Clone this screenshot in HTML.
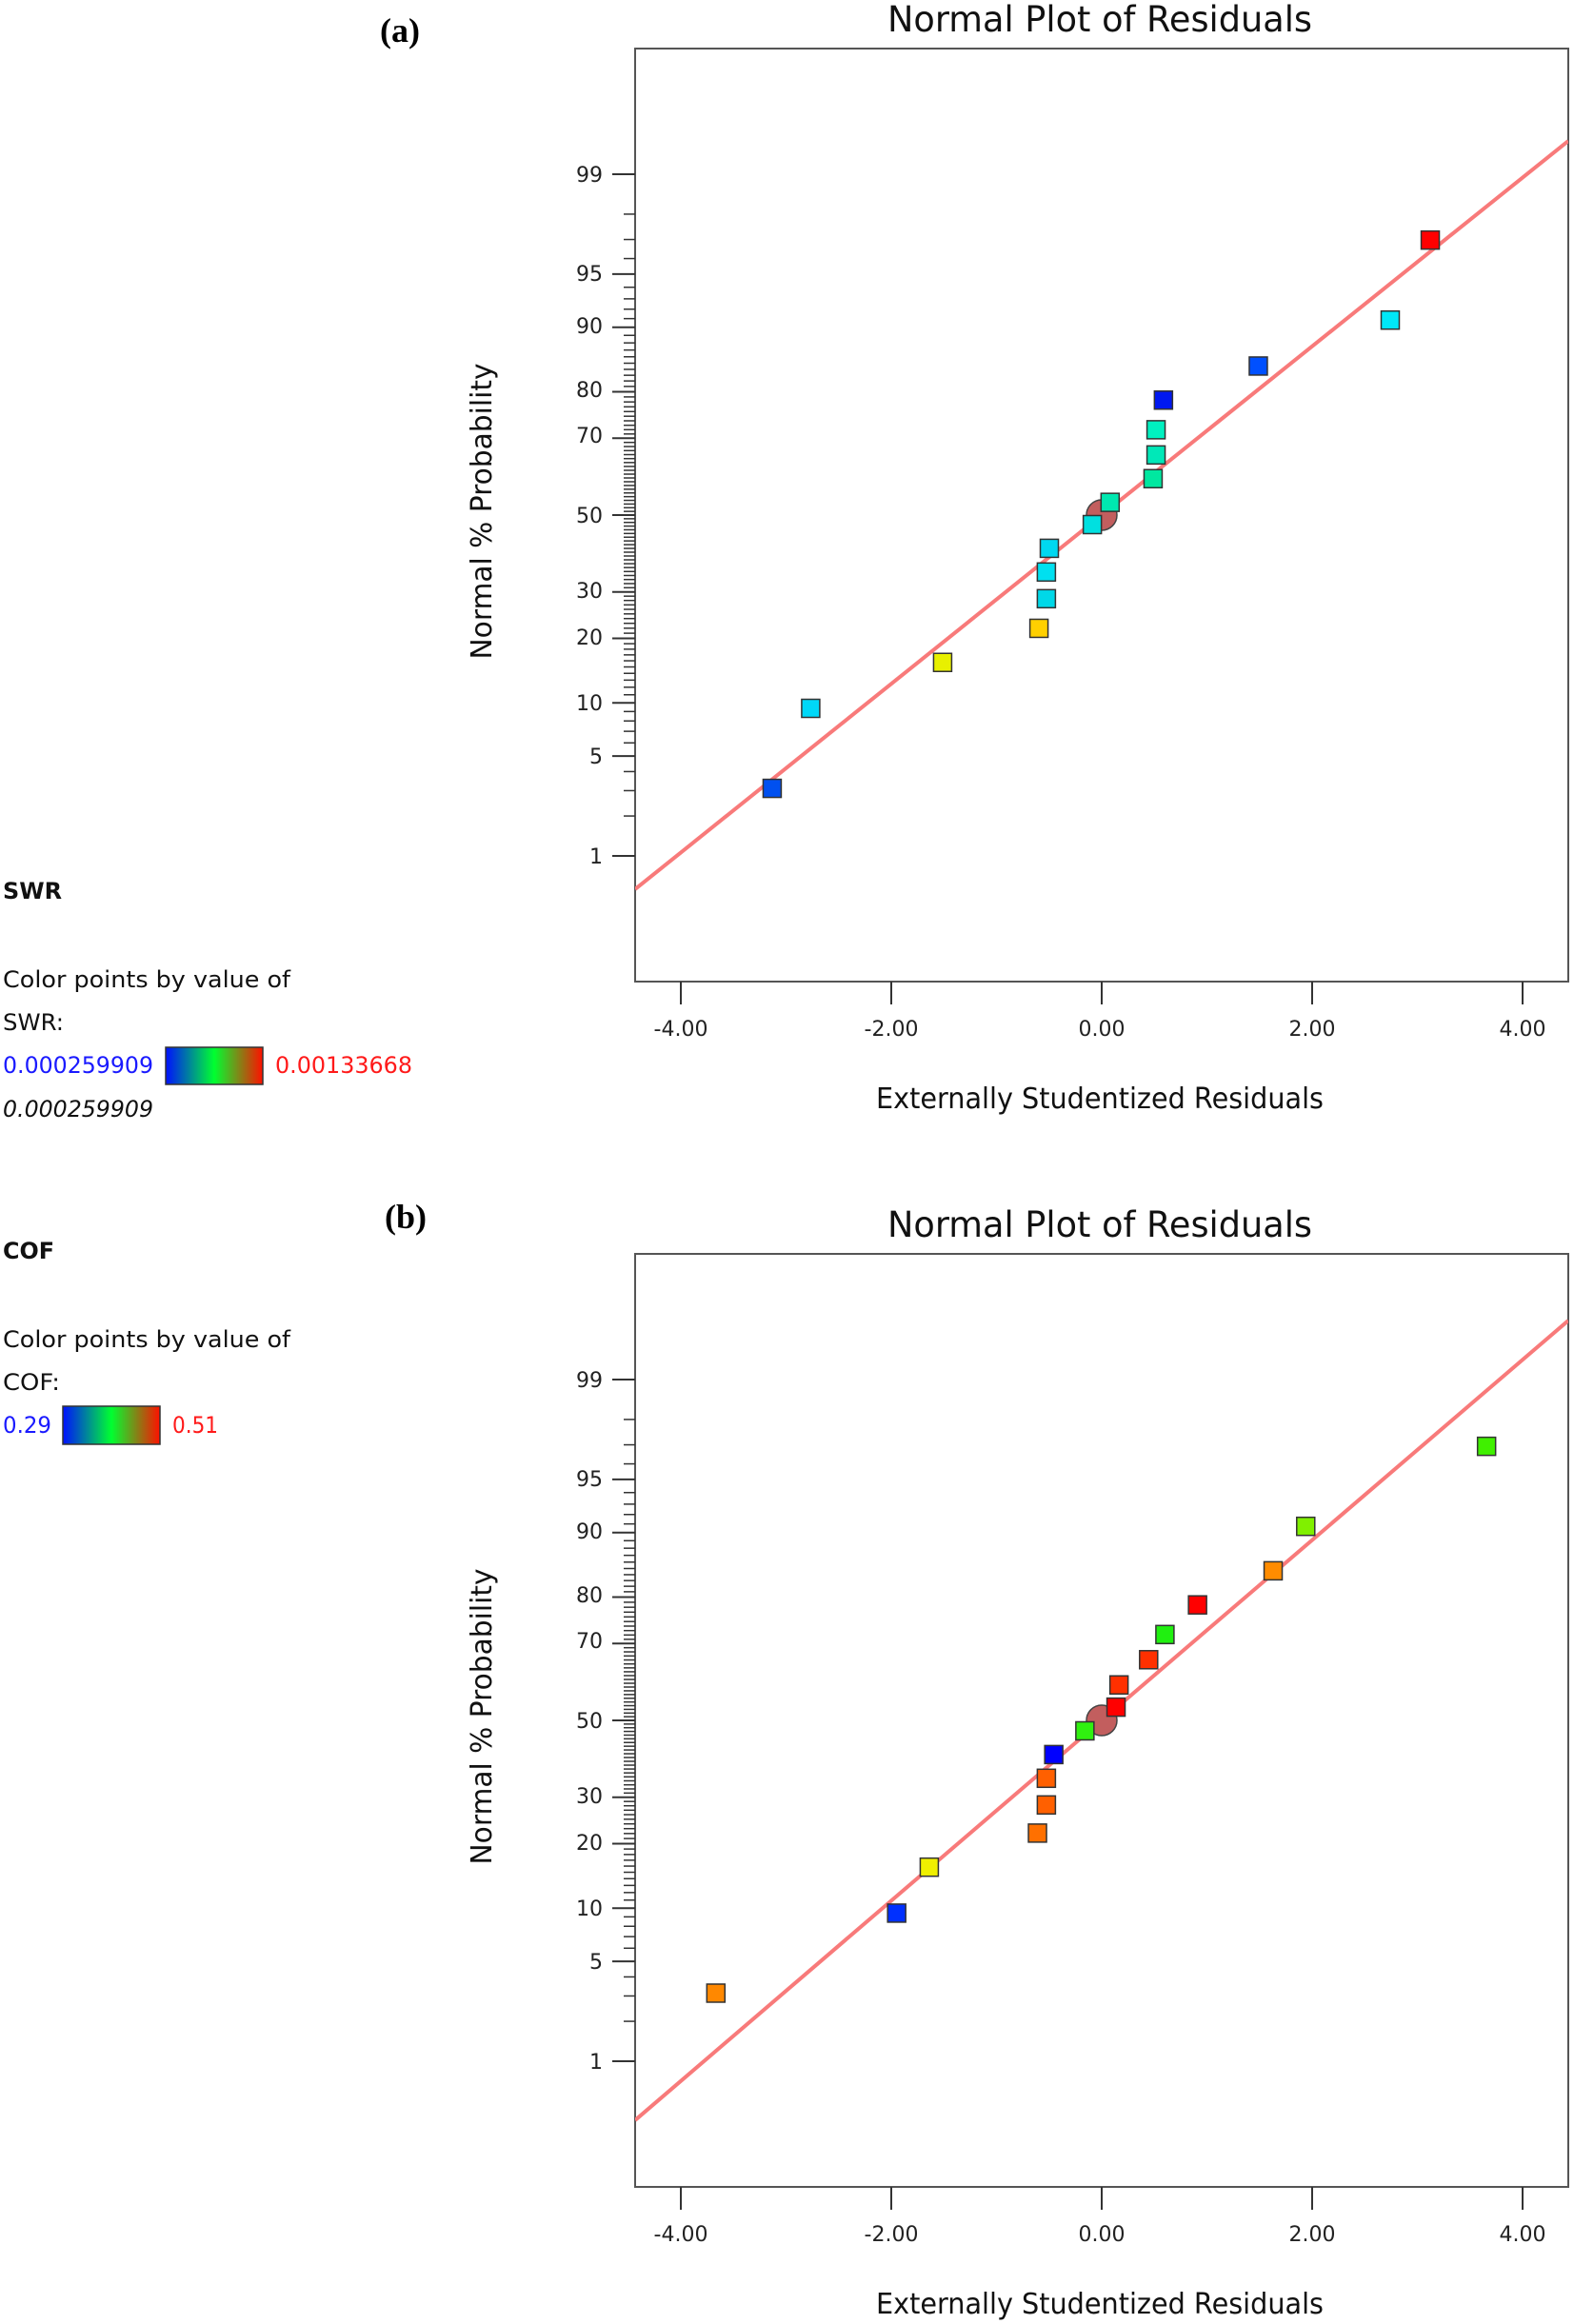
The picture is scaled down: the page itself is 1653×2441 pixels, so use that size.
<!DOCTYPE html>
<html><head><meta charset="utf-8"><style>
html,body{margin:0;padding:0;background:#fff;}
svg{display:block;}
text{font-family:"DejaVu Sans","Liberation Sans",sans-serif;}
</style></head><body>
<svg id="s" width="1653" height="2441" viewBox="0 0 1653 2441" xmlns="http://www.w3.org/2000/svg">
<defs>
<linearGradient id="g" x1="0" x2="1" y1="0" y2="0">
<stop offset="0" stop-color="#0010ff"/><stop offset="0.5" stop-color="#00ff30"/><stop offset="1" stop-color="#ff1000"/>
</linearGradient>
</defs>
<g id="pa"></g><g id="pb"></g>
<text x="420" y="44" font-weight="bold" font-size="36" text-anchor="middle" style="font-family:'Liberation Serif',serif">(a)</text>
<text x="1155" y="33" font-size="37" text-anchor="middle" textLength="446" lengthAdjust="spacingAndGlyphs" fill="#111">Normal Plot of Residuals</text>
<text x="1155" y="1164" font-size="30" text-anchor="middle" textLength="470" lengthAdjust="spacingAndGlyphs" fill="#111">Externally Studentized Residuals</text>
<text transform="translate(516,537) rotate(-90)" font-size="30" text-anchor="middle" textLength="311" lengthAdjust="spacingAndGlyphs" fill="#111">Normal % Probability</text>
<g font-size="22" text-anchor="end" fill="#222">
<text x="633" y="191">99</text><text x="633" y="295">95</text><text x="633" y="350">90</text><text x="633" y="417">80</text><text x="633" y="465">70</text><text x="633" y="549">50</text><text x="633" y="628">30</text><text x="633" y="677">20</text><text x="633" y="746">10</text><text x="633" y="802">5</text><text x="633" y="907">1</text>
</g>
<g font-size="22" text-anchor="middle" fill="#222">
<text x="715" y="1088">-4.00</text><text x="936" y="1088">-2.00</text><text x="1157" y="1088">0.00</text><text x="1378" y="1088">2.00</text><text x="1599" y="1088">4.00</text>
</g>
<text x="3" y="944" font-size="24" font-weight="bold" fill="#111" textLength="62" lengthAdjust="spacingAndGlyphs">SWR</text>
<text x="3" y="1037" font-size="24" fill="#111" textLength="302" lengthAdjust="spacingAndGlyphs">Color points by value of</text>
<text x="3" y="1082" font-size="24" fill="#111" textLength="64" lengthAdjust="spacingAndGlyphs">SWR:</text>
<text x="3" y="1127" font-size="24" fill="#1a1aff" textLength="158" lengthAdjust="spacingAndGlyphs">0.000259909</text>
<rect x="174" y="1100" width="102" height="39" fill="url(#g)" stroke="#333" stroke-width="1.5"/>
<text x="289" y="1127" font-size="24" fill="#ff1a1a" textLength="144" lengthAdjust="spacingAndGlyphs">0.00133668</text>
<text x="3" y="1173" font-size="24" font-style="italic" fill="#111" textLength="158" lengthAdjust="spacingAndGlyphs">0.000259909</text>
<text x="426" y="1290" font-weight="bold" font-size="36" text-anchor="middle" style="font-family:'Liberation Serif',serif">(b)</text>
<text x="1155" y="1299" font-size="37" text-anchor="middle" textLength="446" lengthAdjust="spacingAndGlyphs" fill="#111">Normal Plot of Residuals</text>
<text x="1155" y="2430" font-size="30" text-anchor="middle" textLength="470" lengthAdjust="spacingAndGlyphs" fill="#111">Externally Studentized Residuals</text>
<text transform="translate(516,1803) rotate(-90)" font-size="30" text-anchor="middle" textLength="311" lengthAdjust="spacingAndGlyphs" fill="#111">Normal % Probability</text>
<g font-size="22" text-anchor="end" fill="#222">
<text x="633" y="1457">99</text><text x="633" y="1561">95</text><text x="633" y="1616">90</text><text x="633" y="1683">80</text><text x="633" y="1731">70</text><text x="633" y="1815">50</text><text x="633" y="1894">30</text><text x="633" y="1943">20</text><text x="633" y="2012">10</text><text x="633" y="2068">5</text><text x="633" y="2173">1</text>
</g>
<g font-size="22" text-anchor="middle" fill="#222">
<text x="715" y="2354">-4.00</text><text x="936" y="2354">-2.00</text><text x="1157" y="2354">0.00</text><text x="1378" y="2354">2.00</text><text x="1599" y="2354">4.00</text>
</g>
<text x="3" y="1322" font-size="24" font-weight="bold" fill="#111" textLength="54" lengthAdjust="spacingAndGlyphs">COF</text>
<text x="3" y="1415" font-size="24" fill="#111" textLength="302" lengthAdjust="spacingAndGlyphs">Color points by value of</text>
<text x="3" y="1460" font-size="24" fill="#111" textLength="60" lengthAdjust="spacingAndGlyphs">COF:</text>
<text x="3" y="1505" font-size="24" fill="#1a1aff" textLength="51" lengthAdjust="spacingAndGlyphs">0.29</text>
<rect x="66" y="1477" width="102" height="40" fill="url(#g)" stroke="#333" stroke-width="1.5"/>
<text x="181" y="1505" font-size="24" fill="#ff1a1a" textLength="48" lengthAdjust="spacingAndGlyphs">0.51</text>
</svg>
<script>
(function(){
var NS="http://www.w3.org/2000/svg";
function el(p,t,a){var e=document.createElementNS(NS,t);for(var k in a)e.setAttribute(k,a[k]);p.appendChild(e);return e;}
function ninv(p){
var a=[-39.69683028665376,220.9460984245205,-275.9285104469687,138.3577518672690,-30.66479806614716,2.506628277459239],
b=[-54.47609879822406,161.5858589980209,-155.6989798598866,66.80131188771720,-13.28068155288572],
c=[-0.007784894002430293,-0.3223964580411365,-2.400758277161838,-2.549732539343734,4.374664141464968,2.938163982698783],
d=[0.007784695709041462,0.3224671290700398,2.445134137142996,3.754408661907416];
var q,r;
if(p<0.02425){q=Math.sqrt(-2*Math.log(p));return (((((c[0]*q+c[1])*q+c[2])*q+c[3])*q+c[4])*q+c[5])/((((d[0]*q+d[1])*q+d[2])*q+d[3])*q+1);}
if(p>1-0.02425){q=Math.sqrt(-2*Math.log(1-p));return -(((((c[0]*q+c[1])*q+c[2])*q+c[3])*q+c[4])*q+c[5])/((((d[0]*q+d[1])*q+d[2])*q+d[3])*q+1);}
q=p-0.5;r=q*q;return (((((a[0]*r+a[1])*r+a[2])*r+a[3])*r+a[4])*r+a[5])*q/(((((b[0]*r+b[1])*r+b[2])*r+b[3])*r+b[4])*r+1);
}
var S=1653/1062;
function panel(g,dy,slope,pts){
var L=667,R=1647,T=51+dy,B=1031+dy,y50=541+dy,k=153.9;
el(g,"rect",{x:L,y:T,width:R-L,height:B-T,fill:"none",stroke:"#555","stroke-width":2});
var major={1:1,5:1,10:1,20:1,30:1,50:1,70:1,80:1,90:1,95:1,99:1};
for(var i=1;i<=99;i++){var y=y50-ninv(i/100)*k;el(g,"line",{x1:major[i]?643:655,x2:L,y1:y,y2:y,stroke:"#333","stroke-width":major[i]?2:1.5});}
[-4,-2,0,2,4].forEach(function(v){var x=1157+v*110.5;el(g,"line",{x1:x,x2:x,y1:B,y2:B+24,stroke:"#333","stroke-width":2});});
var cl=el(g,"clipPath",{id:"c"+dy});el(cl,"rect",{x:L,y:T,width:R-L,height:B-T});
el(g,"line",{x1:L,y1:y50+490*slope,x2:R,y2:y50-490*slope,stroke:"#f87a7a","stroke-width":4,"clip-path":"url(#c"+dy+")"});
el(g,"circle",{cx:1157,cy:y50,r:16,fill:"#c25e5e",stroke:"#444","stroke-width":1.5});
pts.forEach(function(p){var x=p[0]*S,y=p[1]*S;el(g,"rect",{x:x-9.5,y:y-9.5,width:19,height:19,fill:p[2],stroke:"#333","stroke-width":1.5});});
}
panel(document.getElementById("pa"),0,0.802,[
[521,532,"#0050f0"],[547,478,"#00d8f8"],[636,447,"#e8f000"],[701,424,"#ffd000"],[706,404,"#00d8e8"],[706,386,"#00e0f0"],[708,370,"#00d8f0"],[737,354,"#00e0e0"],[749,339,"#00e8b0"],[778,323,"#00e8a0"],[780,307,"#00e8b8"],[780,290,"#00f0c0"],[785,270,"#0018f0"],[849,247,"#0050ff"],[938,216,"#00e8f8"],[965,162,"#ff0000"]
]);
panel(document.getElementById("pb"),1266,0.857,[
[483,1345,"#ff8800"],[605,1291,"#0030ff"],[627,1260,"#f0f000"],[700,1237,"#ff7000"],[706,1218,"#ff6000"],[706,1200,"#ff6000"],[711,1184,"#0000ff"],[732,1168,"#30f010"],[753,1152,"#ff0000"],[755,1137,"#ff3000"],[775,1120,"#ff3000"],[786,1103,"#20f010"],[808,1083,"#ff0000"],[859,1060,"#ff8c00"],[881,1030,"#80f000"],[1003,976,"#40f000"]
]);
})();
</script>
</body></html>
